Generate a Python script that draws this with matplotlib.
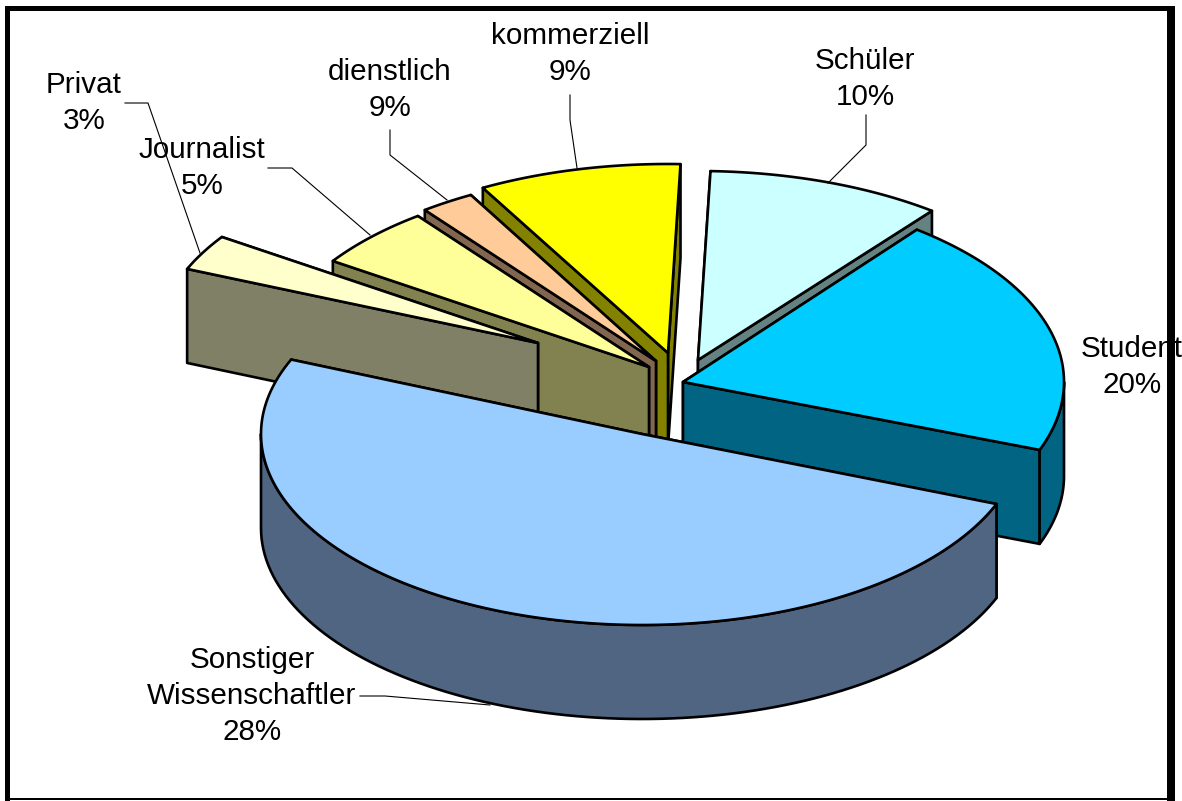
import numpy as np
import matplotlib
matplotlib.use("Agg")
import matplotlib.pyplot as plt
from matplotlib.patches import Rectangle

plt.rcParams["font.family"] = ["Liberation Sans", "DejaVu Sans"]

# Anteil der Segmente, wie er im Bild gezeichnet ist (nicht die Beschriftung)
labels = ["Student", "Schüler", "kommerziell", "dienstlich", "Journalist", "Privat",
          "Sonstiger\nWissenschaftler"]
pct_text = ["20%", "10%", "9%", "9%", "5%", "3%", "28%"]
shares = [20.2, 10.0, 8.6, 2.3, 5.2, 3.05, 50.4]

top_colors = ["#00CCFF", "#CCFFFF", "#FFFF00", "#FFCC99", "#FFFF99", "#FFFFCC", "#99CCFF"]
wall_colors = ["#006482", "#648282", "#828200", "#826650", "#828250", "#808066", "#4F6582"]

# Spitze jedes Segments in Pixeln (Explosion)
apex = [(683, 382), (698, 360), (668, 353), (656, 361), (649, 367), (538, 343), (642, 434)]
semi_y = [193, 189, 189, 190, 190, 190, 191]   # hintere Segmente etwas flacher
label_pos = [(1132, 367), (865, 79), (570, 54), (390, 90), (202, 168), (84, 103), (252, 696)]
leaders = [None,
           [(866, 115), (866, 145), (828, 183)],
           [(570, 95), (570, 120), (577, 168)],
           [(390, 130), (390, 155), (447, 200)],
           [(268, 168), (292, 168), (370, 235)],
           [(125, 103), (148, 103), (200, 253)],
           [(360, 696), (385, 696), (490, 705)]]

A = 381        # Halbachse der Ellipse
DEPTH = 94     # Hoehe des Kuchens
START = -20.6
LW = 1.9


def rim(cx, cy, b, t):
    t = np.radians(t)
    return cx + A * np.cos(t), cy - b * np.sin(t)


def face(xs, ys, color):
    ax.fill(xs, ys, facecolor=color, edgecolor="black", linewidth=LW, joinstyle="round")


def draw_slice(cx, cy, b, t0, t1, top, wall):
    # Schnittflaechen, die hintere zuerst
    cuts = sorted([rim(cx, cy, b, t0), rim(cx, cy, b, t1)], key=lambda p: p[1])
    for x, y in cuts:
        face([cx, x, x, cx], [cy, y, y + DEPTH, cy + DEPTH], wall)
    # Aussenwand, nur der untere Teil ist sichtbar
    for k in (-360, 0):
        s, e = max(t0, 180 + k), min(t1, 360 + k)
        if e > s:
            ts = np.linspace(s, e, 100)
            x, y = rim(cx, cy, b, ts)
            face(np.r_[x, x[::-1]], np.r_[y, y[::-1] + DEPTH], wall)
    # Deckel
    ts = np.linspace(t0, t1, 150)
    x, y = rim(cx, cy, b, ts)
    face(np.r_[cx, x], np.r_[cy, y], top)


fig = plt.figure(figsize=(11.82, 8.01), dpi=100)
ax = fig.add_axes([0, 0, 1, 1])
ax.set_xlim(0, 1182)
ax.set_ylim(801, 0)
ax.axis("off")

edges = START + np.cumsum([0] + shares) * 3.6

# von hinten nach vorne zeichnen
for i in [1, 2, 3, 4, 5, 0, 6]:
    draw_slice(apex[i][0], apex[i][1], semi_y[i], edges[i], edges[i + 1], top_colors[i], wall_colors[i])

for line in leaders:
    if line is not None:
        ax.plot([p[0] for p in line], [p[1] for p in line], color="black", lw=0.8, zorder=1)

for name, pct, pos in zip(labels, pct_text, label_pos):
    ax.text(pos[0], pos[1], name + "\n" + pct, ha="center", va="center",
            fontsize=21.3, linespacing=1.36, color="black", zorder=5)

# Rahmen
for x, y, w, h in [(5, 6, 1170, 5), (5, 6, 5, 795), (1167, 11, 8, 790), (5, 798, 1170, 2)]:
    ax.add_patch(Rectangle((x, y), w, h, facecolor="black", edgecolor="none", zorder=6))

fig.savefig("out.png", dpi=100)
